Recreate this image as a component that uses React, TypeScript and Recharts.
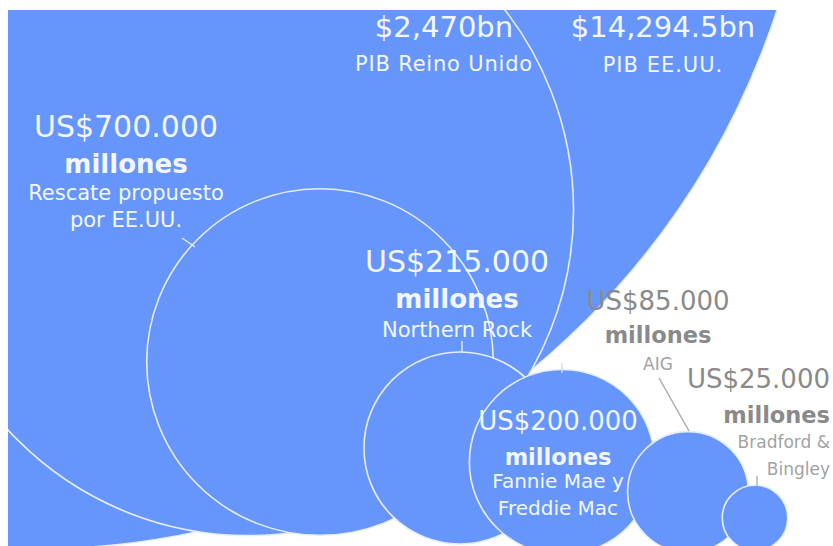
import React from 'react';
import { ScatterChart, Scatter, XAxis, YAxis, ZAxis } from 'recharts';

// what each bubble stands for, and its size in US$ bn
const names = [
  'PIB EE.UU.',
  'PIB Reino Unido',
  'Rescate propuesto por EE.UU.',
  'Northern Rock',
  'Fannie Mae y Freddie Mac',
  'AIG',
  'Bradford & Bingley',
];
const valuesBn = [14294.5, 2470, 700, 215, 200, 85, 25];
const valueLabels = ['$14,294.5bn', '$2,470bn', 'US$700.000', 'US$215.000', 'US$200.000', 'US$85.000', 'US$25.000'];
const hasMillones = [false, false, true, true, true, true, true];
const captions = [
  ['PIB EE.UU.'],
  ['PIB Reino Unido'],
  ['Rescate propuesto', 'por EE.UU.'],
  ['Northern Rock'],
  ['Fannie Mae y', 'Freddie Mac'],
  ['AIG'],
  ['Bradford &', 'Bingley'],
];
// bubble centres (layout units = px of the plot)
const bubbleX = [33, 248, 320, 460, 562, 688, 755];
const bubbleY = [-234, 210, 362, 448, 462, 492, 518];

const WIDTH = 833;
const HEIGHT = 546;
const K = 6.55; // radius px per sqrt(bn)
const MAX_VALUE = Math.max(...valuesBn);
const MAX_AREA = Math.PI * K * K * MAX_VALUE;

const BLUE = '#6696fc';
const RIM = '#e6edff';
const WHITE = '#f3f6ff';
const GRAY = '#8a8a8a';
const LIGHT_GRAY = '#a2a2a2';
const FONT = '"DejaVu Sans", Verdana, sans-serif';

type LabelLayout = {
  x: number;
  y: number;
  anchor: 'start' | 'middle' | 'end';
  valueSize: number;
  millonesSize: number;
  millonesDy: number;
  capSize: number;
  capDy: number[];
  capSpacing?: number;
  color: string;
  capColor: string;
  connector?: { x1: number; y1: number; x2: number; y2: number; color: string };
};

const LABEL_LAYOUT: LabelLayout[] = [
  { x: 663, y: 37, anchor: 'middle', valueSize: 29, millonesSize: 0, millonesDy: 0, capSize: 21, capDy: [35], capSpacing: 1, color: WHITE, capColor: WHITE },
  { x: 444, y: 37, anchor: 'middle', valueSize: 29, millonesSize: 0, millonesDy: 0, capSize: 21, capDy: [34], capSpacing: 0.8, color: WHITE, capColor: WHITE },
  {
    x: 126, y: 137, anchor: 'middle', valueSize: 30, millonesSize: 26, millonesDy: 36, capSize: 21, capDy: [63, 90],
    color: WHITE, capColor: WHITE, connector: { x1: 56, y1: 101, x2: 69, y2: 110, color: RIM },
  },
  {
    x: 457, y: 272, anchor: 'middle', valueSize: 30, millonesSize: 26, millonesDy: 36, capSize: 21, capDy: [65],
    color: WHITE, capColor: WHITE, connector: { x1: 5, y1: 69, x2: 5, y2: 80, color: RIM },
  },
  {
    x: 558, y: 430, anchor: 'middle', valueSize: 26, millonesSize: 22.5, millonesDy: 35, capSize: 20, capDy: [58, 85],
    color: WHITE, capColor: WHITE, connector: { x1: 4, y1: -67, x2: 4, y2: -57, color: '#cfdcff' },
  },
  {
    x: 658, y: 310, anchor: 'middle', valueSize: 26, millonesSize: 22.5, millonesDy: 33, capSize: 17, capDy: [60],
    color: GRAY, capColor: LIGHT_GRAY, connector: { x1: 1, y1: 68, x2: 31, y2: 121, color: '#a8a8a8' },
  },
  {
    x: 830, y: 388, anchor: 'end', valueSize: 26, millonesSize: 22.5, millonesDy: 35, capSize: 17, capDy: [60, 87],
    color: GRAY, capColor: LIGHT_GRAY, connector: { x1: -73, y1: 88, x2: -73, y2: 98, color: '#b0b0b0' },
  },
];

const bubbles = names.map((name, i) => ({ name, x: bubbleX[i], y: bubbleY[i], z: valuesBn[i] }));
const labelPoints = LABEL_LAYOUT.map((l, i) => ({ name: names[i], x: l.x, y: l.y, z: 0, idx: i }));

const Bubble = (props: any) => {
  const { cx, cy, size, width } = props;
  const r = size != null ? Math.sqrt(size / Math.PI) : width / 2;
  return <circle cx={cx} cy={cy} r={r} fill={BLUE} stroke={RIM} strokeWidth={1.6} />;
};

const BubbleLabel = (props: any) => {
  const { cx, cy, payload } = props;
  const i = payload.idx;
  const l = LABEL_LAYOUT[i];
  return (
    <g fontFamily={FONT} textAnchor={l.anchor}>
      {l.connector && (
        <line
          x1={cx + l.connector.x1}
          y1={cy + l.connector.y1}
          x2={cx + l.connector.x2}
          y2={cy + l.connector.y2}
          stroke={l.connector.color}
          strokeWidth={1.4}
        />
      )}
      <text x={cx} y={cy} fontSize={l.valueSize} fill={l.color}>
        {valueLabels[i]}
      </text>
      {hasMillones[i] && (
        <text x={cx} y={cy + l.millonesDy} fontSize={l.millonesSize} fontWeight="bold" fill={l.color}>
          millones
        </text>
      )}
      {captions[i].map((c, j) => (
        <text key={j} x={cx} y={cy + l.capDy[j]} fontSize={l.capSize} letterSpacing={l.capSpacing ?? 0} fill={l.capColor}>
          {c}
        </text>
      ))}
    </g>
  );
};

export default function App() {
  return (
    <div style={{ position: 'absolute', left: 0, top: 0, width: WIDTH, height: HEIGHT, background: '#fff' }}>
      <ScatterChart width={WIDTH} height={HEIGHT} margin={{ top: 10, right: 0, bottom: 0, left: 8 }}>
        <XAxis type="number" dataKey="x" domain={[8, WIDTH]} allowDataOverflow hide />
        <YAxis type="number" dataKey="y" domain={[10, HEIGHT]} reversed allowDataOverflow hide />
        <ZAxis type="number" dataKey="z" domain={[0, MAX_VALUE]} range={[0, MAX_AREA]} />
        <Scatter data={bubbles} shape={Bubble} isAnimationActive={false} />
        <Scatter data={labelPoints} shape={BubbleLabel} isAnimationActive={false} />
      </ScatterChart>
    </div>
  );
}
